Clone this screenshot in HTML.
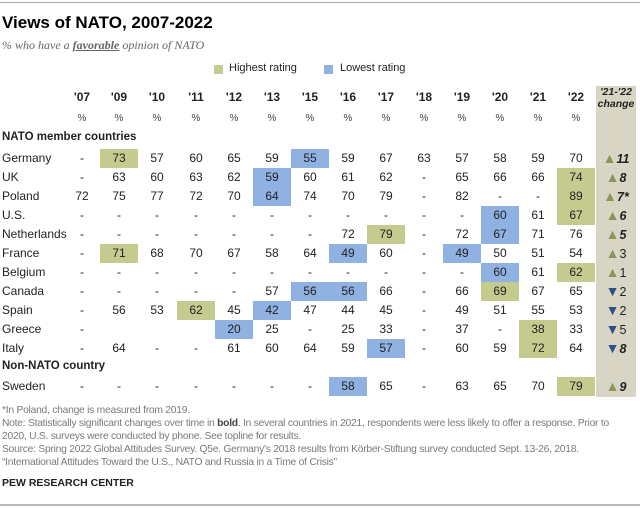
<!DOCTYPE html>
<html><head><meta charset="utf-8">
<style>
body{margin:0;width:640px;height:508px;background:#fff;font-family:"Liberation Sans",Arial,sans-serif;position:relative;overflow:hidden;color:#222}
.abs{position:absolute;white-space:nowrap}
.c{position:absolute;font-size:12px;text-align:center;width:38px;height:19px;line-height:19px}
.foot{position:absolute;left:2px;font-size:10.3px;color:#7a7a7a;white-space:nowrap;letter-spacing:-0.25px}
</style></head><body>
<div class="abs" style="left:0;top:2px;width:640px;height:1px;background:#aaa"></div>
<div class="abs" style="left:2px;top:13px;font-size:17px;font-weight:bold;color:#000">Views of NATO, 2007-2022</div>
<div class="abs" style="left:2px;top:38px;font-size:12px;font-style:italic;font-family:'Liberation Serif',serif;color:#666">% who have a <b style="text-decoration:underline">favorable</b> opinion of NATO</div>
<div class="abs" style="left:214px;top:65px;width:9px;height:9px;background:#c5ca8f"></div>
<div class="abs" style="left:229px;top:62px;font-size:11px">Highest rating</div>
<div class="abs" style="left:324px;top:65px;width:9px;height:9px;background:#8fb2e2"></div>
<div class="abs" style="left:340px;top:62px;font-size:11px">Lowest rating</div>
<div class="abs" style="left:596px;top:86px;width:40px;height:311px;background:#d9d5c5"></div>
<div id="tbl"></div>
<div class="foot" style="top:405px">*In Poland, change is measured from 2019.</div>
<div class="foot" style="top:418px">Note: Statistically significant changes over time in <b style="color:#444">bold</b>. In several countries in 2021, respondents were less likely to offer a response. Prior to</div>
<div class="foot" style="top:431px">2020, U.S. surveys were conducted by phone. See topline for results.</div>
<div class="foot" style="top:444px">Source: Spring 2022 Global Attitudes Survey. Q5e. Germany's 2018 results from Körber-Stiftung survey conducted Sept. 13-26, 2018.</div>
<div class="foot" style="top:457px">“International Attitudes Toward the U.S., NATO and Russia in a Time of Crisis”</div>
<div class="abs" style="left:2px;top:477px;font-size:10.5px;font-weight:bold;color:#222">PEW RESEARCH CENTER</div>
<div class="abs" style="left:0;top:504px;width:640px;height:2px;background:#bbb"></div>
<script>
const years=["'07","'09","'10","'11","'12","'13","'15","'16","'17","'18","'19","'20","'21","'22"];
const countries=["Germany","UK","Poland","U.S.","Netherlands","France","Belgium","Canada","Spain","Greece","Italy","Sweden"];
const values=[
["-","73","57","60","65","59","55","59","67","63","57","58","59","70"],
["-","63","60","63","62","59","60","61","62","-","65","66","66","74"],
["72","75","77","72","70","64","74","70","79","-","82","-","-","89"],
["-","-","-","-","-","-","-","-","-","-","-","60","61","67"],
["-","-","-","-","-","-","-","72","79","-","72","67","71","76"],
["-","71","68","70","67","58","64","49","60","-","49","50","51","54"],
["-","-","-","-","-","-","-","-","-","-","-","60","61","62"],
["-","-","-","-","-","57","56","56","66","-","66","69","67","65"],
["-","56","53","62","45","42","47","44","45","-","49","51","55","53"],
["-","","","","20","25","-","25","33","-","37","-","38","33"],
["-","64","-","-","61","60","64","59","57","-","60","59","72","64"],
["-","-","-","-","-","-","-","58","65","-","63","65","70","79"]];
const highest=[1,13,13,13,8,1,13,11,3,12,12,13];
const lowest=[[6],[5],[5],[11],[11],[7,10],[11],[6,7],[5],[4],[8],[7]];
const changes=[11,8,7,6,5,3,1,-2,-2,-5,-8,9];
const changeBold=[1,1,1,1,1,0,0,0,0,0,1,1];
const changeSuffix=["","","*","","","","","","","","",""];
const colX=[82,119,157,196,234,272,310,348,386,424,462,500,538,576];
const rowY=[158,177,196,215,234,253,272,291,310,329,348,386];
const T=document.getElementById('tbl');
function mk(tag,css,txt){const e=document.createElement(tag);e.style.cssText=css;if(txt!==undefined)e.innerHTML=txt;T.appendChild(e);return e;}
years.forEach((y,i)=>{
 const h=mk('div','position:absolute;left:'+(colX[i]-19)+'px;top:90px;width:38px;text-align:center;font-size:12px;font-weight:bold',y);
 
 
 const p=mk('div','position:absolute;left:'+(colX[i]-19)+'px;top:113px;width:38px;text-align:center;font-size:10px;color:#444','%');
 
 
});
const ch=mk('div','position:absolute;left:596px;top:86px;width:40px;text-align:center;font-size:10.5px;font-weight:bold;font-style:italic;line-height:12px',"'21-'22<br>change");


const g1=mk('div','position:absolute;left:2px;top:131px;font-size:11.5px;font-weight:bold;white-space:nowrap','NATO member countries');


const g2=mk('div','position:absolute;left:2px;top:360px;font-size:11.5px;font-weight:bold;white-space:nowrap','Non-NATO country');


countries.forEach((c,r)=>{
 const y=rowY[r]-9.5;
 const l=mk('div','position:absolute;left:2px;top:'+y+'px;height:19px;line-height:19px;font-size:12px',c);
 
 
 values[r].forEach((v,i)=>{
  let bg='transparent';
  if(highest[r]===i)bg='#c5ca8f';
  if(lowest[r].indexOf(i)>=0)bg='#8fb2e2';
  const d=document.createElement('div');d.className='c';
  d.style.left=(colX[i]-19)+'px';d.style.top=y+'px';d.style.background=bg;
  d.textContent=v;
  
  
  T.appendChild(d);
 });
 const v=changes[r];const up=v>=0;
 const tri='<span style="color:'+(up?'#8c9459':'#2e4f86')+';font-size:14px">'+(up?'▲':'▼')+'</span>';
 const num=changeBold[r]?'<b><i>'+Math.abs(v)+changeSuffix[r]+'</i></b>':Math.abs(v)+changeSuffix[r];
 const e=mk('div','position:absolute;left:596px;top:'+y+'px;width:40px;height:19px;line-height:19px;text-align:center;font-size:12.5px',tri+num);
 
 
});
</script>
</body></html>
